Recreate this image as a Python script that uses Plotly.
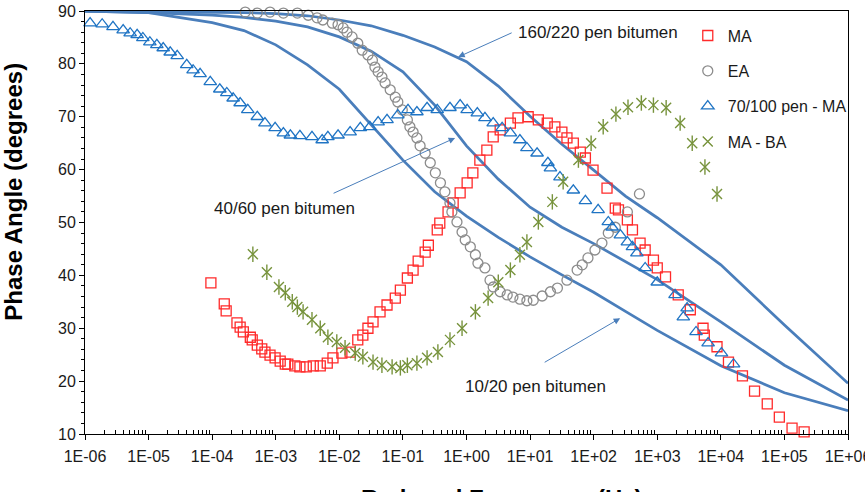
import plotly.graph_objects as go

# ---------------- data ----------------
# master curves (binder grades) read at decade / half-decade reduced frequencies
curve_exp = [-6, -5, -4, -3.5, -3, -2.5, -2, -1.5, -1, -0.5, 0, 0.5, 1, 1.5, 2, 2.5, 3, 4, 5, 6]
pen_160_220 = [90.0, 89.9, 89.8, 89.7, 89.5, 89.1, 88.3, 87.2, 85.4, 83.2, 80.4, 75.8,
               70.1, 64.8, 59.9, 55.0, 50.9, 42.0, 30.6, 19.6]
pen_40_60 = [90.0, 89.7, 89.2, 88.8, 88.1, 87.0, 85.1, 82.4, 78.5, 72.2, 64.5, 58.2,
             52.9, 49.1, 46.0, 42.6, 39.2, 31.2, 23.0, 16.4]
pen_10_20 = [90.0, 89.7, 87.8, 86.3, 83.6, 79.8, 75.2, 68.6, 61.8, 55.8, 51.2, 47.2,
             43.5, 40.1, 36.8, 33.2, 29.6, 22.9, 17.8, 14.4]

# MA
ma_exp = [-4.02, -3.81, -3.78, -3.61, -3.56, -3.51, -3.40, -3.37, -3.29, -3.22,
          -3.17, -3.09, -3.01, -2.93, -2.85, -2.81, -2.70, -2.62, -2.52, -2.41,
          -2.30, -2.19, -2.10, -1.96, -1.83, -1.71, -1.63, -1.55, -1.47, -1.36,
          -1.25, -1.12, -1.04, -0.93, -0.84, -0.76, -0.65, -0.60, -0.46, -0.42,
          -0.29, -0.21, -0.10, 0.01, 0.10, 0.21, 0.32, 0.42, 0.53, 0.69,
          0.81, 0.97, 1.13, 1.27, 1.39, 1.50, 1.58, 1.68, 1.79, 1.87,
          1.99, 2.21, 2.34, 2.39, 2.53, 2.61, 2.73, 2.81, 2.94, 3.00,
          3.13, 3.33, 3.52, 3.72, 3.74, 3.94, 4.12, 4.34, 4.53, 4.73,
          4.92, 5.12, 5.31]
ma_phase = [38.6, 34.6, 33.3, 31.0, 30.2, 29.3, 28.3, 27.8, 26.8, 26.1,
            25.5, 24.9, 24.4, 23.8, 23.2, 23.2, 22.9, 22.7, 22.7, 22.9,
            22.9, 23.4, 24.4, 25.3, 25.5, 27.8, 28.7, 30.0, 31.2, 33.1,
            34.4, 35.7, 37.2, 39.5, 41.0, 42.7, 44.4, 45.7, 48.6, 49.9,
            52.0, 53.7, 55.6, 57.5, 59.4, 61.8, 63.7, 66.2, 67.5, 68.8,
            69.8, 70.0, 69.4, 68.8, 68.1, 67.1, 66.0, 65.0, 63.3, 62.2,
            59.9, 56.5, 52.7, 52.4, 50.5, 48.6, 46.1, 44.8, 42.9, 41.4,
            39.7, 36.3, 33.5, 30.0, 28.7, 26.5, 23.6, 21.0, 18.1, 15.7,
            13.2, 11.1, 10.4]

# EA
ea_exp = [-3.48, -3.29, -3.09, -2.88, -2.66, -2.49, -2.35, -2.26, -2.11, -2.02,
          -1.94, -1.88, -1.80, -1.71, -1.64, -1.55, -1.48, -1.44, -1.39, -1.33,
          -1.28, -1.20, -1.12, -1.08, -1.01, -0.93, -0.89, -0.84, -0.78, -0.73,
          -0.65, -0.57, -0.49, -0.41, -0.34, -0.26, -0.23, -0.15, -0.07, -0.02,
          0.06, 0.14, 0.18, 0.29, 0.37, 0.42, 0.53, 0.64, 0.73, 0.84,
          0.95, 1.05, 1.19, 1.32, 1.43, 1.58, 1.74, 1.82, 1.91, 2.02,
          2.13, 2.23, 2.34, 2.53, 2.72]
ea_phase = [89.8, 89.6, 89.8, 89.6, 89.6, 89.2, 88.7, 88.3, 87.7, 87.4,
            86.8, 86.0, 85.1, 83.9, 82.6, 81.7, 80.7, 79.4, 78.5, 77.5,
            76.4, 75.1, 73.7, 72.8, 71.3, 69.4, 68.1, 67.1, 66.0, 64.5,
            63.1, 61.3, 59.4, 57.5, 55.8, 53.7, 52.0, 50.1, 48.2, 46.7,
            45.4, 43.9, 42.3, 41.4, 39.1, 37.8, 36.9, 36.3, 35.9, 35.5,
            35.2, 35.3, 36.1, 36.9, 37.6, 39.1, 41.0, 42.0, 43.3, 44.8,
            46.1, 48.0, 49.1, 52.0, 55.4]

# 70/100 pen - MA
tri_exp = [-5.92, -5.73, -5.56, -5.40, -5.29, -5.18, -5.09, -4.98, -4.87, -4.77,
           -4.66, -4.55, -4.40, -4.30, -4.19, -4.03, -3.88, -3.77, -3.67, -3.56,
           -3.44, -3.29, -3.17, -3.01, -2.88, -2.77, -2.62, -2.43, -2.27, -2.18,
           -2.02, -1.83, -1.67, -1.52, -1.39, -1.25, -1.08, -0.92, -0.78, -0.62,
           -0.46, -0.26, -0.10, 0.01, 0.17, 0.29, 0.42, 0.56, 0.69, 0.84,
           0.95, 1.11, 1.28, 1.32, 1.47, 1.68, 1.87, 2.07, 2.23, 2.29,
           2.42, 2.53, 2.61, 2.68, 2.81, 3.00, 3.28, 3.47, 3.41, 3.61,
           3.80, 4.01, 4.20]
tri_phase = [87.7, 87.5, 87.0, 86.4, 85.8, 85.5, 84.9, 84.1, 83.6, 83.0,
             82.2, 81.5, 79.8, 78.8, 78.1, 76.6, 75.2, 74.5, 73.5, 72.6,
             71.3, 70.0, 68.8, 67.9, 66.9, 66.5, 66.4, 66.2, 65.6, 66.2,
             66.5, 67.1, 67.9, 68.1, 69.0, 69.4, 70.3, 71.3, 70.9, 71.7,
             71.3, 71.7, 72.2, 71.3, 70.7, 69.8, 68.8, 67.9, 66.9, 65.6,
             64.1, 63.1, 61.3, 60.3, 58.6, 56.1, 54.1, 52.4, 50.1, 49.1,
             47.6, 46.3, 45.4, 44.2, 41.4, 38.7, 36.3, 33.8, 32.1, 29.3,
             27.2, 25.3, 23.2]

# MA - BA
star_exp = [-3.36, -3.14, -2.95, -2.85, -2.74, -2.66, -2.57, -2.43, -2.30, -2.18,
            -2.04, -1.91, -1.75, -1.63, -1.47, -1.33, -1.17, -1.04, -0.93, -0.78,
            -0.62, -0.45, -0.26, -0.07, 0.14, 0.34, 0.50, 0.69, 0.84, 0.95,
            1.13, 1.35, 1.52, 1.76, 1.96, 2.15, 2.35, 2.54, 2.75, 2.94,
            3.14, 3.36, 3.55, 3.75, 3.94]
star_phase = [44.0, 40.6, 37.8, 36.7, 35.0, 34.0, 33.1, 31.6, 30.0, 28.3,
              27.4, 26.3, 25.3, 24.6, 23.6, 23.0, 22.7, 22.5, 23.0, 23.4,
              24.4, 25.5, 27.8, 30.0, 33.1, 35.7, 38.7, 41.0, 43.9, 46.3,
              50.1, 53.9, 57.7, 61.8, 65.0, 68.1, 70.5, 71.8, 72.6, 72.2,
              71.7, 68.8, 65.0, 60.5, 55.4]

tick_exp = [-6, -5, -4, -3, -2, -1, 0, 1, 2, 3, 4, 5, 6]
tick_labels = ["1E-06", "1E-05", "1E-04", "1E-03", "1E-02", "1E-01", "1E+00",
               "1E+01", "1E+02", "1E+03", "1E+04", "1E+05", "1E+06"]


def hz(exps):
    return [10.0 ** e for e in exps]


FONT = "Liberation Sans, Arial, sans-serif"
LINE_BLUE = "#4A7EBB"

fig = go.Figure()

for name, vals in [("160/220 pen bitumen", pen_160_220),
                   ("40/60 pen bitumen", pen_40_60),
                   ("10/20 pen bitumen", pen_10_20)]:
    fig.add_trace(go.Scatter(x=hz(curve_exp), y=vals, mode="lines", name=name,
                             line=dict(color=LINE_BLUE, width=2.75),
                             showlegend=False))

fig.add_trace(go.Scatter(x=hz(ma_exp), y=ma_phase, mode="markers", name="MA",
                         legendgroup="g1", cliponaxis=False,
                         marker=dict(symbol="square-open", size=10, color="#FF2A2A",
                                     line=dict(width=1.3))))
fig.add_trace(go.Scatter(x=hz(ea_exp), y=ea_phase, mode="markers", name="EA",
                         legendgroup="g2", cliponaxis=False,
                         marker=dict(symbol="circle-open", size=10, color="#8C8C8C",
                                     line=dict(width=1.3))))
fig.add_trace(go.Scatter(x=hz(tri_exp), y=tri_phase, mode="markers", name="70/100 pen - MA",
                         legendgroup="g3", cliponaxis=False,
                         marker=dict(symbol="triangle-up-open", size=11, color="#1F74C4",
                                     line=dict(width=1.3))))
fig.add_trace(go.Scatter(x=hz(star_exp), y=star_phase, mode="markers", name="MA - BA",
                         legendgroup="g4", cliponaxis=False,
                         marker=dict(symbol="x-thin-open", size=10, color="#77933C",
                                     line=dict(width=1.4))))
fig.add_trace(go.Scatter(x=hz(star_exp), y=star_phase, mode="markers", name="MA - BA",
                         legendgroup="g4", showlegend=False, cliponaxis=False,
                         marker=dict(symbol="line-ns-open", size=11, color="#77933C",
                                     line=dict(width=1.4))))

minor_vals = [k * 10.0 ** e for e in range(-6, 6) for k in range(2, 10)]

fig.update_xaxes(type="log", range=[-6, 6], tickmode="array",
                 tickvals=hz(tick_exp), ticktext=tick_labels,
                 ticks="outside", ticklen=5, tickwidth=1, tickcolor="black",
                 ticklabeloverflow="allow", ticklabelstandoff=3, automargin=False,
                 showline=True, linecolor="black", linewidth=1, mirror=True,
                 showgrid=False, zeroline=False,
                 tickfont=dict(family=FONT, size=16, color="#1a1a1a"),
                 minor=dict(tickvals=minor_vals, ticks="inside", ticklen=4,
                            tickcolor="black", showgrid=False))
fig.update_yaxes(range=[10, 90], tick0=10, dtick=10, automargin=False,
                 ticks="outside", ticklen=5, tickwidth=1, tickcolor="black",
                 showline=True, linecolor="black", linewidth=1, mirror=True,
                 showgrid=False, zeroline=False,
                 tickfont=dict(family=FONT, size=16, color="#1a1a1a"),
                 minor=dict(dtick=2, ticks="outside", ticklen=3,
                            tickcolor="black", showgrid=False))

annotations = [
    # axis titles
    dict(text="<b>Phase Angle (degrees)</b>", textangle=-90, xref="paper", yref="paper",
         x=-0.0948, y=0.572, xanchor="center", yanchor="middle", showarrow=False,
         font=dict(family=FONT, size=24, color="black")),
    dict(text="<b>Reduced Frequency (Hz)</b>", xref="paper", yref="paper",
         x=0.5465, y=-0.152, xanchor="center", yanchor="middle", showarrow=False,
         font=dict(family=FONT, size=24, color="black")),
    # curve labels
    dict(text="160/220 pen bitumen", xref="x", yref="y", x=0.781, y=86.0,
         xanchor="left", yanchor="middle", showarrow=False,
         font=dict(family=FONT, size=17, color="#1a1a1a")),
    dict(text="40/60 pen bitumen", xref="x", yref="y", x=-4.002, y=52.7,
         xanchor="left", yanchor="middle", showarrow=False,
         font=dict(family=FONT, size=17, color="#1a1a1a")),
    dict(text="10/20 pen bitumen", xref="x", yref="y", x=-0.053, y=18.9,
         xanchor="left", yanchor="middle", showarrow=False,
         font=dict(family=FONT, size=17, color="#1a1a1a")),
    # arrows
    dict(text="", xref="x", yref="y", axref="x", ayref="y",
         x=-0.131, y=81.3, ax=0.734, ay=86.0, showarrow=True,
         arrowhead=2, arrowsize=1.3, arrowwidth=1, arrowcolor=LINE_BLUE),
    dict(text="", xref="x", yref="y", axref="x", ayref="y",
         x=-0.179, y=66.0, ax=-2.114, ay=55.4, showarrow=True,
         arrowhead=2, arrowsize=1.3, arrowwidth=1, arrowcolor=LINE_BLUE),
    dict(text="", xref="x", yref="y", axref="x", ayref="y",
         x=2.417, y=31.9, ax=1.206, ay=23.4, showarrow=True,
         arrowhead=2, arrowsize=1.3, arrowwidth=1, arrowcolor=LINE_BLUE),
]

fig.update_layout(
    width=865, height=492,
    margin=dict(l=85, r=17, t=11, b=58, autoexpand=False),
    paper_bgcolor="white", plot_bgcolor="white",
    font=dict(family=FONT, size=16, color="#1a1a1a"),
    showlegend=True,
    legend=dict(x=0.79, y=0.982, xanchor="left", yanchor="top",
                bgcolor="rgba(0,0,0,0)", borderwidth=0,
                tracegroupgap=11.5, traceorder="grouped",
                font=dict(family=FONT, size=16, color="#1a1a1a")),
    annotations=annotations,
)

fig.write_html("out.html")
